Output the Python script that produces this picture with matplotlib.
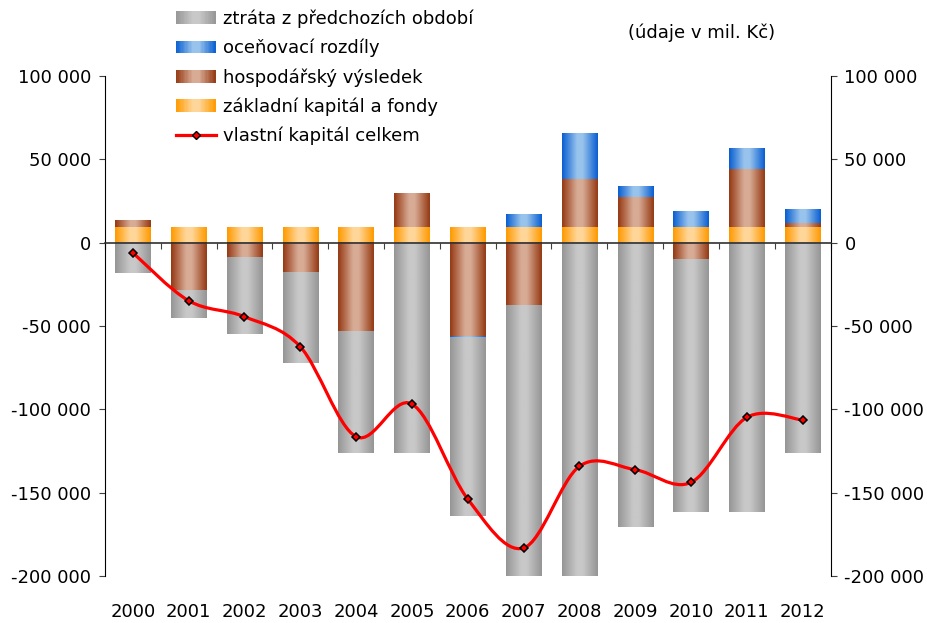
import numpy as np
import matplotlib
matplotlib.use("Agg")
import matplotlib.pyplot as plt
from matplotlib.colors import LinearSegmentedColormap
from matplotlib.path import Path
from matplotlib.patches import PathPatch, Rectangle
from matplotlib.legend_handler import HandlerBase
from matplotlib.lines import Line2D
from matplotlib.ticker import FuncFormatter
from matplotlib.transforms import blended_transform_factory

plt.rcParams['font.family'] = ['DejaVu Sans']
FS = 13

years = ['2000', '2001', '2002', '2003', '2004', '2005', '2006',
         '2007', '2008', '2009', '2010', '2011', '2012']

# hodnoty v mil. Kč
zakladni = [9300, 9300, 9300, 9300, 9300, 9300, 9300,
            9300, 9300, 9300, 9300, 9300, 9300]
hosp_vysledek = [3600, -28800, -8800, -17800, -53400, 19800, -56400,
                 -37800, 29000, 18200, -10200, 35000, 2600]
oceneni = [0, 0, 0, 0, 0, 0, -600,
           7200, 27400, 6400, 9000, 12400, 8200]
ztrata = [-18400, -16200, -46000, -54200, -72600, -126400, -107200,
          -162200, -200200, -170800, -151600, -161800, -126400]
vlastni_kapital = [-6000, -34800, -44400, -62400, -116400, -96800, -153800,
                   -183200, -134200, -136200, -143800, -104800, -106400]

series = [
    ('základní kapitál a fondy', zakladni, '#ff9a00', '#ffd699'),
    ('hospodářský výsledek', hosp_vysledek, '#953a14', '#d8ab95'),
    ('oceňovací rozdíly', oceneni, '#0a5fd2', '#98c3ec'),
    ('ztráta z předchozích období', ztrata, '#969696', '#c8c8c8'),
]


def grad_cmap(edge, mid):
    return LinearSegmentedColormap.from_list(
        'g', [(0, edge), (0.42, mid), (0.58, mid), (1, edge)])


class GradientHandler(HandlerBase):
    def __init__(self, cmap):
        super().__init__()
        self.cmap = cmap

    def create_artists(self, legend, orig, xd, yd, width, height, fontsize, trans):
        n = 30
        arts = []
        for i in range(n):
            r = Rectangle((xd + width * i / n, yd), width / n + 0.3, height,
                          facecolor=self.cmap((i + 0.5) / n), edgecolor='none',
                          transform=trans)
            arts.append(r)
        return arts


fig = plt.figure(figsize=(9.28, 6.23), dpi=100)
ax = fig.add_axes([0.113, 0.0754, 0.782, 0.8026])

x = np.arange(len(years))
width = 0.63
grad = np.linspace(0, 1, 64).reshape(1, -1)

pos_base = np.zeros(len(years))
neg_base = np.zeros(len(years))
handles = {}
for label, vals, edge, mid in series:
    vals = np.array(vals, dtype=float)
    bottoms = np.where(vals >= 0, pos_base, neg_base)
    bars = ax.bar(x, vals, width, bottom=bottoms, color='none', edgecolor='none')
    cmap = grad_cmap(edge, mid)
    for rect in bars:
        h = rect.get_height()
        if h == 0:
            continue
        x0 = rect.get_x()
        y0 = rect.get_y()
        ax.imshow(grad, cmap=cmap, aspect='auto', interpolation='bilinear',
                  extent=(x0, x0 + rect.get_width(), min(y0, y0 + h), max(y0, y0 + h)),
                  zorder=2)
    pos_base = pos_base + np.where(vals > 0, vals, 0)
    neg_base = neg_base + np.where(vals < 0, vals, 0)
    handles[label] = cmap

# vyhlazená čára (Catmull-Rom -> Bezier)
yv = np.array(vlastni_kapital, dtype=float)
pts = np.column_stack([x, yv])
verts = [pts[0]]
codes = [Path.MOVETO]
for i in range(len(pts) - 1):
    p0 = pts[i - 1] if i > 0 else pts[i]
    p1 = pts[i]
    p2 = pts[i + 1]
    p3 = pts[i + 2] if i + 2 < len(pts) else pts[i + 1]
    c1 = p1 + (p2 - p0) / 6
    c2 = p2 - (p3 - p1) / 6
    verts += [c1, c2, p2]
    codes += [Path.CURVE4] * 3
ax.add_patch(PathPatch(Path(verts, codes), facecolor='none', edgecolor='#ff0000',
                       lw=2.3, zorder=4))
ax.plot(x, yv, linestyle='none', marker='D', markersize=4.5, markerfacecolor='#ff0000',
        markeredgecolor='black', markeredgewidth=1.1, zorder=5)

ax.set_xlim(-0.5, len(years) - 0.5)
ax.set_ylim(-200000, 100000)
ax.set_yticks(np.arange(-200000, 100001, 50000))
ax.yaxis.set_major_formatter(FuncFormatter(lambda v, p: f"{v:,.0f}".replace(",", " ")))
ax.tick_params(axis='y', which='both', left=True, right=True, labelleft=True,
               labelright=True, direction='out', length=4, labelsize=FS,
               color='#404040', pad=6)

# osa x na nule
ax.spines['top'].set_visible(False)
ax.spines['bottom'].set_position(('data', 0))
ax.spines['bottom'].set_color('#303030')
ax.spines['bottom'].set_linewidth(1.2)
ax.spines['bottom'].set_zorder(3)
ax.set_xticks(np.arange(len(years) + 1) - 0.5)
ax.set_xticklabels([])
ax.tick_params(axis='x', direction='out', length=4, color='#404040')
trans = blended_transform_factory(ax.transData, ax.transAxes)
for xi, yr in zip(x, years):
    ax.text(xi, -0.072, yr, transform=trans, ha='center', va='center', fontsize=FS)

# legenda
leg_handles = [Rectangle((0, 0), 1, 1) for _ in series[::-1]]
leg_map = {h: GradientHandler(handles[s[0]]) for h, s in zip(leg_handles, series[::-1])}
line_handle = Line2D([], [], color='#ff0000', lw=2.3, marker='D', markersize=4.5,
                     markerfacecolor='#ff0000', markeredgecolor='black')
leg = fig.legend(leg_handles + [line_handle],
                 [s[0] for s in series[::-1]] + ['vlastní kapitál celkem'],
                 handler_map=leg_map, loc='upper left',
                 bbox_to_anchor=(0.178, 1.002), frameon=False, fontsize=FS,
                 handlelength=2.2, handleheight=0.7, handletextpad=0.4,
                 labelspacing=0.6, borderaxespad=0.2)

fig.text(0.677, 0.947, '(údaje v mil. Kč)', fontsize=FS, ha='left', va='center')

fig.savefig('out.png', dpi=100)
